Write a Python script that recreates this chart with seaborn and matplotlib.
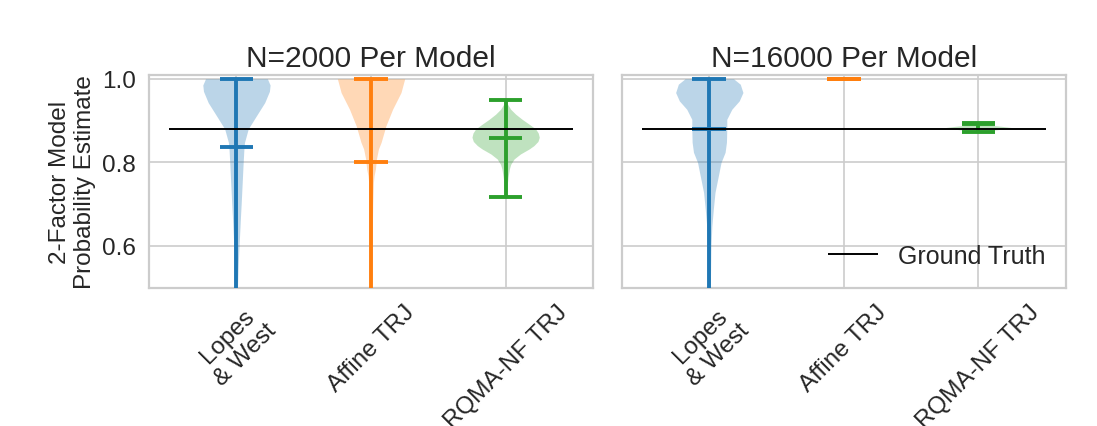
import numpy as np
import matplotlib
matplotlib.use("Agg")
import matplotlib.pyplot as plt
import seaborn as sns

# Categories and panels
models = ["Lopes\n& West", "Affine TRJ", "RQMA-NF TRJ"]
panel_titles = ["N=2000 Per Model", "N=16000 Per Model"]
ground_truth = 0.88

# Summary statistics per model (Lopes & West, Affine TRJ, RQMA-NF TRJ)
mins_2000 = [0.45, 0.45, 0.718]
maxs_2000 = [1.00, 1.00, 0.949]
means_2000 = [0.836, 0.800, 0.859]

mins_16000 = [0.45, 0.999, 0.872]
maxs_16000 = [1.00, 1.000, 0.894]
means_16000 = [0.880, 1.000, 0.892]

# Kernel density profiles: estimate levels and relative density (1 = widest)
lw2000_levels = [0.45, 0.50, 0.55, 0.59, 0.62, 0.67, 0.70, 0.75, 0.80, 0.83,
                 0.848, 0.88, 0.911, 0.943, 0.97, 0.985, 1.0]
lw2000_density = [0.02, 0.03, 0.05, 0.07, 0.09, 0.12, 0.14, 0.17, 0.20, 0.22,
                  0.24, 0.35, 0.59, 0.84, 0.98, 1.0, 0.92]

af2000_levels = [0.45, 0.50, 0.60, 0.70, 0.752, 0.768, 0.784, 0.808, 0.832,
                 0.848, 0.887, 0.927, 0.967, 1.0]
af2000_density = [0.02, 0.02, 0.03, 0.05, 0.07, 0.09, 0.13, 0.16, 0.22,
                  0.30, 0.44, 0.64, 0.89, 1.0]

rq2000_levels = [0.718, 0.74, 0.765, 0.784, 0.795, 0.808, 0.82, 0.832, 0.84,
                 0.85, 0.86, 0.87, 0.88, 0.89, 0.903, 0.915, 0.927, 0.94, 0.949]
rq2000_density = [0.016, 0.04, 0.072, 0.11, 0.15, 0.25, 0.44, 0.70, 0.84,
                  0.96, 1.0, 0.97, 0.89, 0.72, 0.49, 0.30, 0.15, 0.05, 0.02]

lw16000_levels = [0.45, 0.50, 0.55, 0.60, 0.647, 0.688, 0.728, 0.768, 0.80,
                  0.824, 0.848, 0.88, 0.903, 0.927, 0.947, 0.967, 0.987, 1.0]
lw16000_density = [0.02, 0.03, 0.04, 0.05, 0.076, 0.12, 0.17, 0.27, 0.35,
                   0.47, 0.51, 0.52, 0.52, 0.67, 0.89, 1.0, 0.92, 0.72]

af16000_levels = [0.999, 1.0]
af16000_density = [1.0, 1.0]

rq16000_levels = [0.872, 0.876, 0.880, 0.883, 0.886, 0.890, 0.894]
rq16000_density = [0.05, 0.30, 0.80, 1.0, 0.70, 0.20, 0.03]

panels = [
    dict(mins=mins_2000, maxs=maxs_2000, means=means_2000,
         profiles=[(lw2000_levels, lw2000_density),
                   (af2000_levels, af2000_density),
                   (rq2000_levels, rq2000_density)]),
    dict(mins=mins_16000, maxs=maxs_16000, means=means_16000,
         profiles=[(lw16000_levels, lw16000_density),
                   (af16000_levels, af16000_density),
                   (rq16000_levels, rq16000_density)]),
]

sns.set_theme(style="whitegrid")
plt.rcParams["font.family"] = ["Liberation Sans", "DejaVu Sans"]
colors = sns.color_palette("tab10", 3)

fig, axes = plt.subplots(1, 2, figsize=(10.97, 4.27), dpi=100, sharey=True)
fig.subplots_adjust(left=0.1358, right=0.9717, bottom=0.324, top=0.823,
                    wspace=0.0646)

positions = np.arange(1, len(models) + 1)
half_width = 0.25   # violin widths = 0.5
cap_half = 0.125

for ax, title, panel in zip(axes, panel_titles, panels):
    for pos, color, (levels, dens), lo, hi, mu in zip(
            positions, colors, panel["profiles"],
            panel["mins"], panel["maxs"], panel["means"]):
        levels = np.asarray(levels)
        dens = np.asarray(dens)
        ax.fill_betweenx(levels, pos - half_width * dens, pos + half_width * dens,
                         color=color, alpha=0.3, linewidth=0, zorder=2)
        ax.vlines(pos, lo, hi, color=color, linewidth=2.8, zorder=3)
        ax.hlines([lo, hi, mu], pos - cap_half, pos + cap_half,
                  color=color, linewidth=2.8, zorder=3)
    ax.hlines(ground_truth, 0.5, 3.5, color="black", linewidth=1.4,
              zorder=4, label="Ground Truth")
    ax.set_title(title, fontsize=21.5, color="0.15")
    ax.set_xlim(0.35, 3.65)
    ax.set_ylim(0.5, 1.01)
    ax.set_yticks([0.6, 0.8, 1.0])
    ax.set_xticks(positions)
    ax.set_xticklabels(models, rotation=45, ha="center", fontsize=17.5)
    ax.tick_params(axis="y", labelsize=17.5)
    for spine in ax.spines.values():
        spine.set_linewidth(1.6)
    ax.grid(True, linewidth=1.2)

axes[0].set_ylabel("2-Factor Model\nProbability Estimate", fontsize=17.5)
axes[1].legend(loc="lower right", frameon=False, fontsize=18,
               borderaxespad=0.4)

fig.savefig("out.png", dpi=100)
